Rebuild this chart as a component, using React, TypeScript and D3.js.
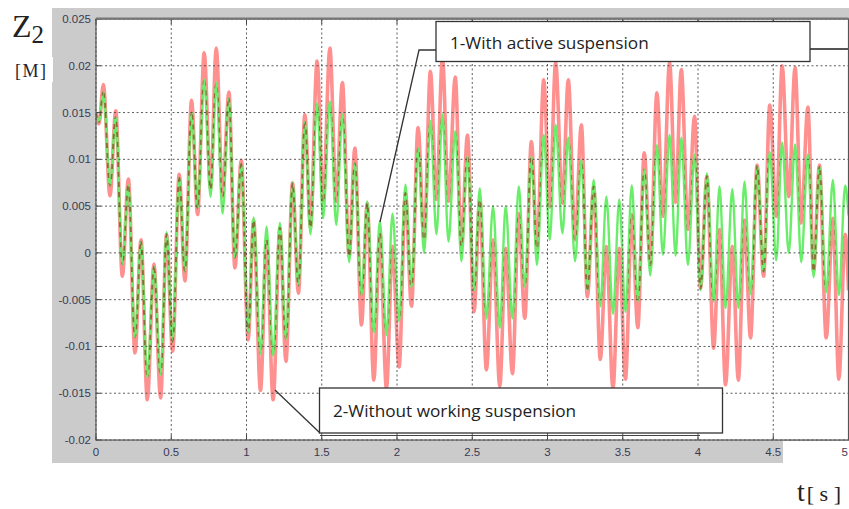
import React from "react";
import * as d3 from "d3";

// Times of the successive extrema (peaks / troughs), seconds
const times = [
  0.0, 0.02, 0.049, 0.093, 0.131, 0.175, 0.215, 0.259, 0.299, 0.341, 0.385, 0.429, 0.469, 0.509, 0.553, 0.591,
  0.635, 0.675, 0.719, 0.761, 0.799, 0.841, 0.883, 0.923, 0.965, 1.011, 1.047, 1.093, 1.133, 1.177, 1.222, 1.262,
  1.306, 1.345, 1.388, 1.425, 1.469, 1.509, 1.554, 1.596, 1.637, 1.682, 1.72, 1.764, 1.802, 1.846, 1.886, 1.93,
  1.97, 2.014, 2.056, 2.096, 2.14, 2.18, 2.222, 2.262, 2.302, 2.342, 2.387, 2.428, 2.468, 2.512, 2.55, 2.594,
  2.638, 2.683, 2.722, 2.767, 2.809, 2.849, 2.893, 2.93, 2.975, 3.015, 3.054, 3.099, 3.138, 3.183, 3.225, 3.265,
  3.307, 3.351, 3.391, 3.435, 3.477, 3.518, 3.56, 3.6, 3.643, 3.683, 3.727, 3.767, 3.811, 3.851, 3.889, 3.933,
  3.977, 4.017, 4.059, 4.104, 4.143, 4.183, 4.228, 4.268, 4.309, 4.349, 4.393, 4.436, 4.477, 4.52, 4.559, 4.603,
  4.645, 4.686, 4.73, 4.768, 4.807, 4.852, 4.896, 4.936, 4.978, 5.0,
];

// 2 - Without working suspension (red)
const withoutSuspension = [
  0.015, 0.0138, 0.018, 0.0061, 0.0152, -0.0025, 0.0079, -0.0107, 0.0014, -0.0157, -0.0012, -0.0155, 0.002, -0.0105, 0.0084, -0.003,
  0.0163, 0.0041, 0.0214, 0.0068, 0.0219, 0.006, 0.0172, -0.0016, 0.0099, -0.0093, 0.0035, -0.0147, 0.0014, -0.0157, 0.0027, -0.0116,
  0.0075, -0.0043, 0.0148, 0.0027, 0.0205, 0.0054, 0.0219, 0.0055, 0.0182, -0.0004, 0.0112, -0.0077, 0.0053, -0.0136, 0.0021, -0.0145,
  0.0007, -0.0122, 0.0064, -0.0057, 0.0134, 0.0014, 0.0194, 0.0057, 0.0209, 0.0055, 0.0188, 0.0007, 0.0126, -0.0063, 0.0057, -0.0125,
  0.0014, -0.0143, 0.0005, -0.0129, 0.0042, -0.007, 0.0119, 0.0005, 0.0185, 0.0049, 0.0204, 0.0053, 0.0185, 0.0014, 0.0137, -0.0047,
  0.0071, -0.0114, 0.0007, -0.0145, 0.0005, -0.0135, 0.0041, -0.008, 0.0107, -0.0013, 0.0171, 0.0039, 0.0204, 0.0054, 0.0196, 0.0025,
  0.0146, -0.0038, 0.0082, -0.0102, 0.0025, -0.0141, 0.0007, -0.0136, 0.0035, -0.0091, 0.0094, -0.0025, 0.0158, 0.0039, 0.02, 0.006,
  0.0198, 0.0032, 0.0156, -0.002, 0.0094, -0.0091, 0.0037, -0.0135, 0.002, -0.004,
];

// 1 - With active suspension (green)
const withActiveSuspension = [
  0.015, 0.014, 0.0172, 0.0072, 0.0145, -0.0012, 0.0072, -0.009, 0.0012, -0.0133, -0.0015, -0.013, 0.0022, -0.0095, 0.008, -0.002,
  0.015, 0.0048, 0.0185, 0.006, 0.0182, 0.0042, 0.0165, -0.0005, 0.0095, -0.0085, 0.0038, -0.0108, 0.0028, -0.011, 0.0032, -0.0092,
  0.0075, -0.0035, 0.014, 0.002, 0.016, 0.0037, 0.0162, 0.003, 0.0148, -0.001, 0.0096, -0.0045, 0.0055, -0.0085, 0.0034, -0.0088,
  0.0042, -0.0073, 0.0073, -0.0037, 0.0112, 0.0, 0.0141, 0.002, 0.0148, 0.0012, 0.013, -0.0009, 0.0103, -0.004, 0.0069, -0.007,
  0.005, -0.008, 0.005, -0.007, 0.0071, -0.0036, 0.0103, -0.0013, 0.0126, 0.0014, 0.0137, 0.0021, 0.0123, -0.0009, 0.0099, -0.004,
  0.0078, -0.0057, 0.006, -0.0065, 0.0057, -0.0063, 0.0072, -0.0052, 0.0089, -0.0024, 0.0115, -0.0002, 0.0126, -0.0003, 0.0123, -0.0013,
  0.0105, -0.004, 0.0085, -0.0052, 0.0071, -0.0059, 0.0068, -0.0059, 0.0076, -0.0044, 0.0093, -0.002, 0.0108, -0.0008, 0.0118, 0.0,
  0.0116, -0.001, 0.0105, -0.0026, 0.0092, -0.0042, 0.0078, -0.0045, 0.0072, 0.004,
];

const xTicks = [0, 0.5, 1, 1.5, 2, 2.5, 3, 3.5, 4, 4.5, 5];
const xTickLabels = ["0", "0.5", "1", "1.5", "2", "2.5", "3", "3.5", "4", "4.5", "5"];
const yTicks = [0.025, 0.02, 0.015, 0.01, 0.005, 0, -0.005, -0.01, -0.015, -0.02];
const yTickLabels = ["0.025", "0.02", "0.015", "0.01", "0.005", "0", "-0.005", "-0.01", "-0.015", "-0.02"];

const label1 = "1-With active suspension";
const label2 = "2-Without working suspension";

export default function App() {
  const W = 849;
  const H = 509;
  const left = 96;
  const right = 848.5;
  const top = 19;
  const bottom = 440;

  const x = d3.scaleLinear().domain([0, 5]).range([left, right]);
  const y = d3.scaleLinear().domain([-0.02, 0.025]).range([bottom, top]);

  const line = d3
    .line<number>()
    .x((_, i) => x(times[i]))
    .y((d) => y(d))
    .curve(d3.curveMonotoneX);

  const redPath = line(withoutSuspension) || "";
  const greenPath = line(withActiveSuspension) || "";

  const tickFont = "'Liberation Sans', Arial, sans-serif";
  const boxFont = "'Open Sans', 'Noto Sans', sans-serif";
  const serif = "'Liberation Serif', 'DejaVu Serif', serif";

  return (
    <svg
      width={W}
      height={H}
      style={{ position: "absolute", left: 0, top: 0, background: "#fff" }}
    >
      <defs>
        <clipPath id="plotClip">
          <rect x={left} y={top} width={right - left} height={bottom - top} />
        </clipPath>
        <mask id="overlapMask" maskUnits="userSpaceOnUse" x={0} y={0} width={W} height={H}>
          <rect x={0} y={0} width={W} height={H} fill="black" />
          <path d={greenPath} fill="none" stroke="white" strokeWidth={2.4} />
        </mask>
      </defs>

      {/* gray figure background */}
      <rect x={52} y={8} width={W - 52} height={463 - 8} fill="#cbcbcb" />
      <rect x={783} y={441} width={W - 783} height={22} fill="#fff" />

      {/* plot area */}
      <rect x={left} y={top} width={right - left} height={bottom - top} fill="#fff" />

      <g clipPath="url(#plotClip)">
        <path d={redPath} fill="none" stroke="#ff9090" strokeWidth={3.6} strokeLinejoin="round" />
        <path d={greenPath} fill="none" stroke="#6aee6a" strokeWidth={2.4} strokeLinejoin="round" />
        <path
          d={redPath}
          fill="none"
          stroke="#8a4a22"
          strokeWidth={2}
          strokeDasharray="5,5"
          mask="url(#overlapMask)"
          opacity={0.75}
        />
      </g>

      {/* grid */}
      <g stroke="#4a4a4a" strokeWidth={1} strokeDasharray="2,2.5" opacity={0.9}>
        {xTicks.map((t) => (
          <line key={"gx" + t} x1={x(t)} x2={x(t)} y1={top} y2={bottom} />
        ))}
        {yTicks.map((t) => (
          <line key={"gy" + t} x1={left} x2={right} y1={y(t)} y2={y(t)} />
        ))}
      </g>

      {/* ticks */}
      <g stroke="#444" strokeWidth={1}>
        {xTicks.map((t) => (
          <g key={"tx" + t}>
            <line x1={x(t)} x2={x(t)} y1={bottom} y2={bottom - 5} />
            <line x1={x(t)} x2={x(t)} y1={top} y2={top + 5} />
          </g>
        ))}
        {yTicks.map((t) => (
          <line key={"ty" + t} x1={left} x2={left + 5} y1={y(t)} y2={y(t)} />
        ))}
      </g>

      {/* frame */}
      <rect x={left} y={top} width={right - left} height={bottom - top} fill="none" stroke="#555" strokeWidth={1.2} />
      <line x1={left} x2={right} y1={top - 0.5} y2={top - 0.5} stroke="#777" strokeWidth={2} />

      {/* tick labels */}
      <g fontFamily={tickFont} fontSize={11.5} fill="#3a3a55">
        {yTicks.map((t, i) => (
          <text key={"ly" + t} x={91} y={y(t)} dy="0.35em" textAnchor="end">
            {yTickLabels[i]}
          </text>
        ))}
        {xTicks.map((t, i) => (
          <text
            key={"lx" + t}
            x={i === xTicks.length - 1 ? W - 1 : x(t)}
            y={456}
            textAnchor={i === xTicks.length - 1 ? "end" : "middle"}
          >
            {xTickLabels[i]}
          </text>
        ))}
      </g>

      {/* annotation 1 */}
      <polyline points="436,50 419,50 380,222" fill="none" stroke="#333" strokeWidth={1.3} />
      <line x1={810} x2={W} y1={49} y2={49} stroke="#555" strokeWidth={2} />
      <rect x={436} y={21.5} width={374} height={40} fill="#fff" stroke="#333" strokeWidth={1.3} />
      <text x={450} y={49} fontFamily={boxFont} fontSize={17.2} fill="#222">
        {label1}
      </text>

      {/* annotation 2 */}
      <polyline points="275,390 320,433" fill="none" stroke="#333" strokeWidth={1.3} />
      <line x1={320} x2={700} y1={435.5} y2={435.5} stroke="#444" strokeWidth={1.2} />
      <rect x={319.5} y={388} width={403} height={45} fill="#fff" stroke="#333" strokeWidth={1.3} />
      <text x={333} y={417} fontFamily={boxFont} fontSize={17.2} fill="#222">
        {label2}
      </text>

      {/* axis titles */}
      <text x={12} y={37} fontFamily={serif} fontSize={32} fill="#222">
        Z
        <tspan fontSize={25} dy={6}>2</tspan>
      </text>
      <rect x={13} y={57} width={40} height={25} fill="#fff" />
      <text x={15} y={77} fontFamily={serif} fontSize={18} fill="#223" letterSpacing={1.5}>
        [M]
      </text>
      <text x={797} y={501} fontFamily={serif} fontSize={28} fill="#222">
        t
        <tspan fontSize={22} dx={2}>[ s ]</tspan>
      </text>
    </svg>
  );
}
